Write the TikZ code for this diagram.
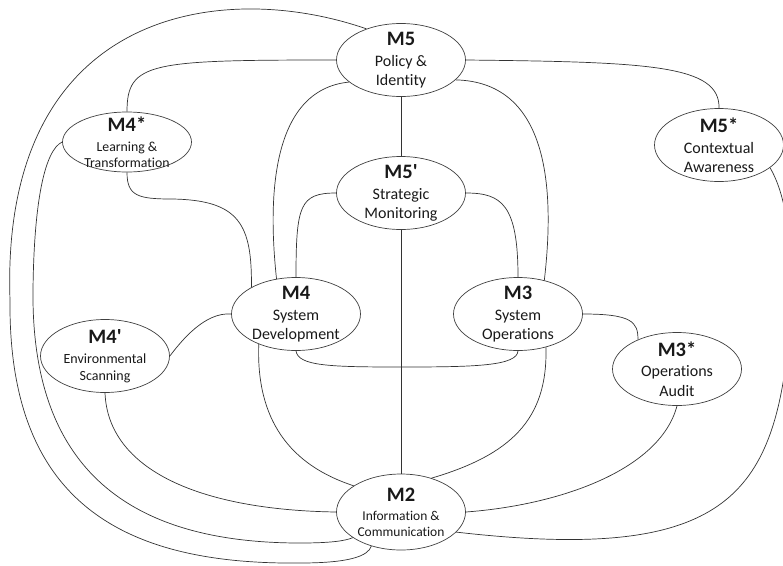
\documentclass[tikz,border=0pt]{standalone}
\usepackage{fontspec}
\setmainfont{Carlito}[Ligatures=NoCommon]
\usetikzlibrary{shapes.geometric,positioning}

\newcommand{\sysname}[1]{{\fontsize{20.5}{22}\selectfont\bfseries #1}}
\newcommand{\prm}{\textquotesingle}

\begin{document}
\begin{tikzpicture}[x=1pt, y=-1pt]
   \clip (0,0) rectangle (783,565);
   \begin{scope}[every node/.style={ellipse, draw=black!75, line width=0.7pt, text=black!90, align=center,
                 minimum width=129pt, minimum height=73pt, inner xsep=-30pt, inner ysep=-30pt,
                 font=\fontsize{16}{19}\selectfont}]
    \node (m5) at (401,60) {\sysname{M5}\\[2.5pt] Policy \&\\Identity};
    \node (m5p) at (401,193) {\sysname{M5\prm}\\[2.5pt] Strategic\\Monitoring};
    \node (m5s) at (719,145) {\sysname{M5*}\\[2.5pt] Contextual\\Awareness};
    \node (m4s) [minimum height=60pt, font=\fontsize{13.8}{15.5}\selectfont] at (127,142) {\sysname{M4*}\\[4.5pt] Learning \&\\Transformation};
    \node (m4) at (296,314) {\sysname{M4}\\[2.5pt] System\\Development};
    \node (m3) at (518,314) {\sysname{M3}\\[2.5pt] System\\Operations};
    \node (m4p) [font=\fontsize{14}{17}\selectfont] at (105,356) {\sysname{M4\prm}\\[3pt] Environmental\\Scanning};
    \node (m3s) [font=\fontsize{16}{20}\selectfont] at (677,369) {\sysname{M3*}\\ Operations\\Audit};
    \node (m2) [minimum height=76pt, font=\fontsize{13.5}{16}\selectfont] at (401,512) {\sysname{M2}\\[3pt] Information \&\\Communication};
   \end{scope}
   \begin{scope}[black!80, line width=0.7pt]
    % from M5
    \draw (m5.138) .. controls (220,-22) and (0,10) .. (10,300) .. controls (8,500) and (120,565) .. (300,563) .. controls (350,563) and (368,556) .. (m2.-131);
    \draw (m5.west) .. controls (150,60) and (127,62) .. (m4s.north);
    \draw (m5.-157) .. controls (270,90) and (268,200) .. (m4.119);
    \draw (m5.east) .. controls (650,62) and (720,65) .. (m5s.north);
    \draw (m5.-20) .. controls (545,82) and (556,180) .. (m3.52);
    \draw (m5) -- (m5p);
    % from M4* and M5'
    \draw (m4s.south) .. controls (127,196) and (138,199) .. (172,199) .. controls (240,200) and (252,225) .. (m4.149);
    \draw (m4s.west) .. controls (45,150) and (34,200) .. (33,290) .. controls (31,470) and (130,543) .. (300,543) .. controls (330,543) and (345,541) .. (m2.-152);
    \draw (m5p.west) .. controls (300,193) and (296,205) .. (m4.north);
    \draw (m5p.east) .. controls (502,193) and (518,205) .. (m3.north);
    \draw (m5p) -- (m2);
    % from M4 and M4'
    \draw (m4.west) .. controls (205,312) and (182,340) .. (m4p.east);
    \draw (m4.south) .. controls (298,366) and (330,367) .. (401,367) .. controls (475,367) and (517,366) .. (m3.south);
    \draw (m4.-141) .. controls (256,420) and (290,465) .. (m2.151);
    \draw (m4p.south) .. controls (108,470) and (200,510) .. (m2.west);
    % from M3, M3* and M5*
    \draw (m3.east) .. controls (632,314) and (638,322) .. (m3s.143);
    \draw (m3.-50) .. controls (548,420) and (510,455) .. (m2.48);
    \draw (m3s.south) .. controls (660,470) and (560,505) .. (m2.east);
    \draw (m5s.-24) .. controls (795,210) and (795,300) .. (785,370) .. controls (765,510) and (700,560) .. (m2.-20);
   \end{scope}
\end{tikzpicture}
\end{document}
